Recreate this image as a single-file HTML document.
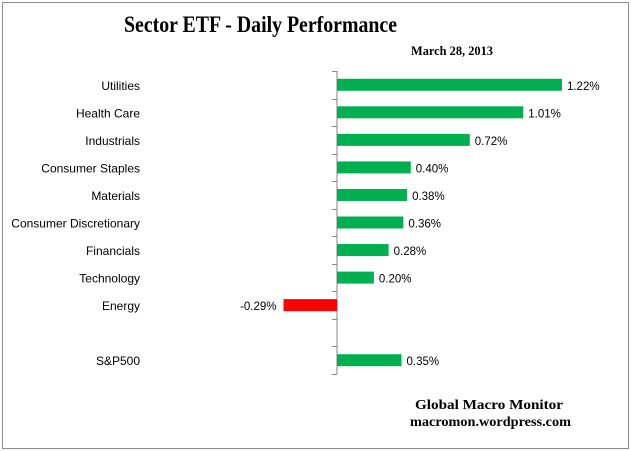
<!DOCTYPE html>
<html><head><meta charset="utf-8"><style>
html,body{margin:0;padding:0;background:#fff;}
svg{display:block;}
</style></head><body>
<svg id="chart" width="631" height="451" xmlns="http://www.w3.org/2000/svg">
<rect x="2.5" y="2.5" width="626" height="446" fill="#fff" stroke="#8c8c8c" stroke-width="1"/>
<text x="124" y="32" textLength="273" lengthAdjust="spacingAndGlyphs" font-family="Liberation Serif, serif" font-weight="bold" font-size="23">Sector ETF - Daily Performance</text>
<text x="411" y="55" textLength="82" lengthAdjust="spacingAndGlyphs" font-family="Liberation Serif, serif" font-weight="bold" font-size="13">March 28, 2013</text>
<text x="415" y="409" textLength="148" lengthAdjust="spacingAndGlyphs" font-family="Liberation Serif, serif" font-weight="bold" font-size="14">Global Macro Monitor</text>
<text x="410" y="426" textLength="161" lengthAdjust="spacingAndGlyphs" font-family="Liberation Serif, serif" font-weight="bold" font-size="14">macromon.wordpress.com</text>
<g id="plot"></g>
</svg>
<script>
const categories = ["Utilities","Health Care","Industrials","Consumer Staples","Materials","Consumer Discretionary","Financials","Technology","Energy","","S&P500"];
const values = [1.22,1.01,0.72,0.40,0.38,0.36,0.28,0.20,-0.29,null,0.35];
const valueLabels = ["1.22%","1.01%","0.72%","0.40%","0.38%","0.36%","0.28%","0.20%","-0.29%","","0.35%"];

const NS = "http://www.w3.org/2000/svg";
const plotG = document.getElementById("plot");
const x0 = 337, pxPerUnit = 184.4, yTop = 71, yBottom = 374;
const band = (yBottom - yTop) / categories.length;
const xScale = v => x0 + v * pxPerUnit;
const yCenter = i => yTop + band * (i + 0.5);
function mk(tag, attrs){const e=document.createElementNS(NS,tag);for(const k in attrs)e.setAttribute(k,attrs[k]);plotG.appendChild(e);return e;}

const axis = mk("line",{x1:x0,y1:yTop,x2:x0,y2:yBottom,stroke:"#868686","stroke-width":1});


for (let i = 0; i <= categories.length; i++) {
  const y = Math.round(yTop + band * i) + 0.5;
  const t = mk("line",{x1:x0-5,y1:y,x2:x0,y2:y,stroke:"#868686","stroke-width":1});
  
  
}
categories.forEach((c, i) => {
  const yc = yCenter(i);
  if (c) {
    const lab = mk("text",{x:140,y:yc+5,"text-anchor":"end","font-family":"Liberation Sans, sans-serif","font-size":"12",fill:"#000"});
    lab.textContent = c;
    
    
  }
  const v = values[i];
  if (v === null) return;
  const xa = xScale(Math.min(0, v)), xb = xScale(Math.max(0, v));
  const bar = mk("rect",{x:xa,y:yc-6,width:xb-xa,height:12,fill:v<0?"#FF0000":"#00B050"});
  
  
  const vl = mk("text",{x:v<0?xa-7:xb+5,y:yc+5,"text-anchor":v<0?"end":"start","font-family":"Liberation Sans, sans-serif","font-size":"11.5",fill:"#000"});
  vl.textContent = valueLabels[i];
  
  
});
</script>
</body></html>
